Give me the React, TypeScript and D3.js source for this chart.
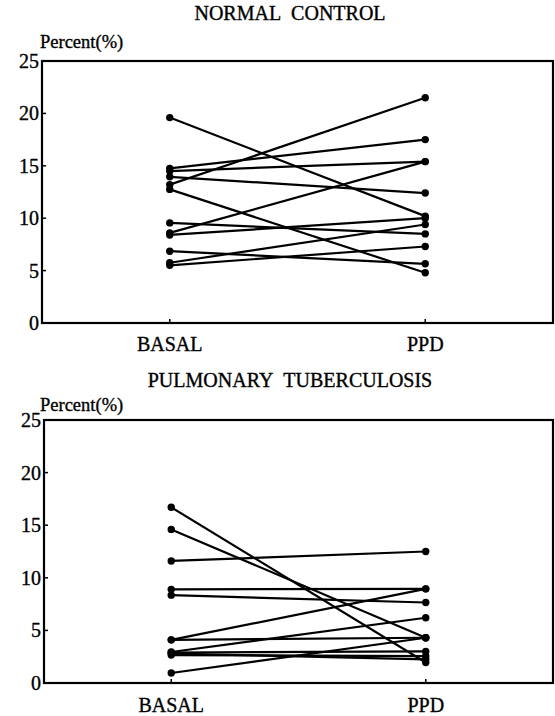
import React from "react";
import * as d3 from "d3";

const conditions = ["BASAL", "PPD"];
const yTicks = [0, 5, 10, 15, 20, 25];

// Normal control: pairs [basal, ppd]
const normalBasal = [19.6, 12.75, 13.2, 14.75, 14.5, 13.95, 8.6, 9.55, 8.4, 6.85, 5.75, 5.5];
const normalPPD = [10.2, 4.8, 21.5, 17.5, 15.4, 12.4, 15.4, 8.5, 10.0, 5.65, 9.4, 7.3];

// Pulmonary tuberculosis: pairs [basal, ppd]
const tbBasal = [16.7, 14.6, 11.6, 8.9, 8.35, 4.1, 4.1, 2.95, 2.9, 2.65, 0.95, 2.8];
const tbPPD = [1.95, 4.3, 12.5, 8.95, 7.65, 8.95, 4.3, 6.2, 3.0, 2.55, 4.3, 2.25];

type PanelProps = {
  title: string;
  titleX: number;
  titleY: number;
  percentY: number;
  left: number;
  right: number;
  top: number;
  bottom: number;
  labelY: number;
  basal: number[];
  ppd: number[];
};

const FONT = "'Liberation Serif'";
const T = { fill: "#000", stroke: "#000", strokeWidth: 0.35 };

function Panel(p: PanelProps) {
  const y = d3.scaleLinear().domain([0, 25]).range([p.bottom, p.top]);
  const x = d3.scalePoint<string>().domain(conditions).range([p.left, p.right]).padding(0.5);
  const line = d3
    .line<[string, number]>()
    .x((d) => x(d[0]) as number)
    .y((d) => y(d[1]));
  const pairs = p.basal.map((b, i) => [
    [conditions[0], b] as [string, number],
    [conditions[1], p.ppd[i]] as [string, number],
  ]);
  return (
    <g>
      <text x={p.titleX} y={p.titleY} textAnchor="middle" fontFamily={FONT} fontSize={20} {...T}>
        {p.title}
      </text>
      <text x={40} y={p.percentY} fontFamily={FONT} fontSize={18.5} {...T}>
        {"Percent(%)"}
      </text>
      <rect
        x={p.left}
        y={p.top}
        width={p.right - p.left}
        height={p.bottom - p.top}
        fill="none"
        stroke="#000"
        strokeWidth={2.2}
      />
      {yTicks.map((t) => (
        <g key={t}>
          <line x1={p.left} x2={p.left + 4} y1={y(t)} y2={y(t)} stroke="#000" strokeWidth={1.5} />
          <text
            x={p.left - 3}
            y={y(t)}
            dy="0.35em"
            textAnchor="end"
            fontFamily={FONT}
            fontSize={20}
            {...T}
          >
            {t}
          </text>
        </g>
      ))}
      {conditions.map((c) => (
        <g key={c}>
          <line
            x1={x(c) as number}
            x2={x(c) as number}
            y1={p.bottom}
            y2={p.bottom - 4}
            stroke="#000"
            strokeWidth={1.5}
          />
          <text
            x={x(c) as number}
            y={p.labelY}
            textAnchor="middle"
            fontFamily={FONT}
            fontSize={20}
            {...T}
          >
            {c}
          </text>
        </g>
      ))}
      {pairs.map((pr, i) => (
        <g key={i}>
          <path d={line(pr) || ""} fill="none" stroke="#000" strokeWidth={2.2} />
          {pr.map((d, j) => (
            <circle key={j} cx={x(d[0]) as number} cy={y(d[1])} r={3.7} fill="#000" />
          ))}
        </g>
      ))}
    </g>
  );
}

export default function App() {
  return (
    <svg
      width={555}
      height={716}
      style={{ position: "absolute", left: 0, top: 0, background: "#fff" }}
    >
      <rect x={0} y={0} width={555} height={716} fill="#fff" />
      <Panel
        title={"NORMAL\u00a0\u00a0CONTROL"}
        titleX={290}
        titleY={20}
        percentY={48}
        left={42}
        right={553}
        top={61}
        bottom={323}
        labelY={351}
        basal={normalBasal}
        ppd={normalPPD}
      />
      <Panel
        title={"PULMONARY\u00a0\u00a0TUBERCULOSIS"}
        titleX={290}
        titleY={387}
        percentY={411}
        left={44}
        right={553}
        top={420}
        bottom={683}
        labelY={712}
        basal={tbBasal}
        ppd={tbPPD}
      />
    </svg>
  );
}
